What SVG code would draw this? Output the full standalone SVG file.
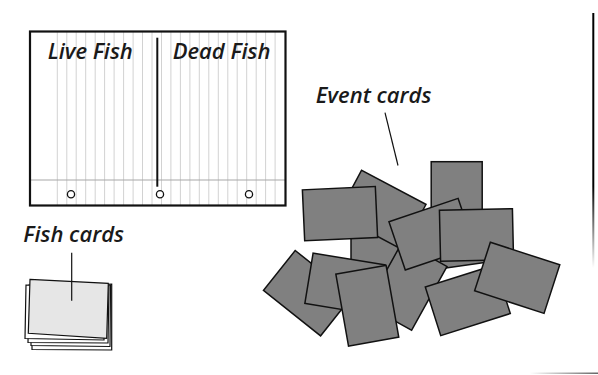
<svg xmlns="http://www.w3.org/2000/svg" xmlns:xlink="http://www.w3.org/1999/xlink" width="598" height="375" viewBox="0 0 598 375">
<style>
.lbl{font-family:"Open Sans","Liberation Sans",sans-serif;font-style:italic;font-weight:600;font-size:22px;fill:#1a1a1a}
.grid{stroke:#d2d2d2;stroke-width:1}
.ec{fill:#808080;stroke:#111;stroke-width:1.5;stroke-linejoin:miter}
.fc{fill:#fff;stroke:#111;stroke-width:1.2}
.ptr{stroke:#111;stroke-width:1.2;fill:none}
.hole{fill:#fff;stroke:#111;stroke-width:1.3}
</style>
<defs>
<rect id="card" x="-36.5" y="-25.5" width="73" height="51" class="ec"/>
<linearGradient id="gv" x1="0" y1="13" x2="0" y2="268" gradientUnits="userSpaceOnUse">
<stop offset="0" stop-color="#000"/>
<stop offset="0.68" stop-color="#000"/>
<stop offset="1" stop-color="#fff"/>
</linearGradient>
<linearGradient id="gh" x1="530" y1="0" x2="598" y2="0" gradientUnits="userSpaceOnUse">
<stop offset="0" stop-color="#fff"/>
<stop offset="1" stop-color="#666"/>
</linearGradient>
</defs>

<g id="board">
<rect x="30" y="31.5" width="255.5" height="174" fill="#fff"/>
<g class="grid">
<line x1="57.3" y1="31.5" x2="57.3" y2="205.5"/>
<line x1="66.8" y1="31.5" x2="66.8" y2="205.5"/>
<line x1="76.2" y1="31.5" x2="76.2" y2="205.5"/>
<line x1="85.7" y1="31.5" x2="85.7" y2="205.5"/>
<line x1="95.2" y1="31.5" x2="95.2" y2="205.5"/>
<line x1="104.6" y1="31.5" x2="104.6" y2="205.5"/>
<line x1="114.1" y1="31.5" x2="114.1" y2="205.5"/>
<line x1="123.6" y1="31.5" x2="123.6" y2="205.5"/>
<line x1="133.1" y1="31.5" x2="133.1" y2="205.5"/>
<line x1="142.5" y1="31.5" x2="142.5" y2="205.5"/>
<line x1="152.0" y1="31.5" x2="152.0" y2="205.5"/>
<line x1="161.5" y1="31.5" x2="161.5" y2="205.5"/>
<line x1="170.9" y1="31.5" x2="170.9" y2="205.5"/>
<line x1="180.4" y1="31.5" x2="180.4" y2="205.5"/>
<line x1="189.9" y1="31.5" x2="189.9" y2="205.5"/>
<line x1="199.3" y1="31.5" x2="199.3" y2="205.5"/>
<line x1="208.8" y1="31.5" x2="208.8" y2="205.5"/>
<line x1="218.3" y1="31.5" x2="218.3" y2="205.5"/>
<line x1="227.8" y1="31.5" x2="227.8" y2="205.5"/>
<line x1="237.2" y1="31.5" x2="237.2" y2="205.5"/>
<line x1="246.7" y1="31.5" x2="246.7" y2="205.5"/>
<line x1="256.2" y1="31.5" x2="256.2" y2="205.5"/>
<line x1="265.6" y1="31.5" x2="265.6" y2="205.5"/>
<line x1="275.1" y1="31.5" x2="275.1" y2="205.5"/>
</g>
<line x1="30" y1="180" x2="285.5" y2="180" stroke="#a8a8a8" stroke-width="1.2"/>
<rect x="30" y="31.5" width="255.5" height="174" fill="none" stroke="#111" stroke-width="2.2"/>
<line x1="157.3" y1="37.7" x2="157.3" y2="186.7" stroke="#111" stroke-width="2"/>
<circle cx="71" cy="194.2" r="3.6" class="hole"/>
<circle cx="160" cy="194.2" r="3.6" class="hole"/>
<circle cx="249" cy="194.2" r="3.6" class="hole"/>
<text class="lbl" x="47.7" y="59">Live Fish</text>
<text class="lbl" x="172.7" y="59">Dead Fish</text>
</g>

<g id="fish-cards">
<polygon class="fc" points="32,287 111.7,284 111.7,350 32,349.5"/>
<polygon class="fc" points="31,286 110.5,285 110,346.5 31,345.5"/>
<polygon class="fc" points="29,285 109,286 108,343 28,342.5"/>
<polygon class="fc" points="26,285 106,287 104,340 25,338.5"/>
<polygon points="30,279.3 108.3,283.3 106.7,338.3 28.3,333.3" fill="#e6e6e6" stroke="#111" stroke-width="1.2"/>
<text class="lbl" x="23.3" y="241.7">Fish cards</text>
</g>

<g id="event-cards">
<use xlink:href="#card" transform="translate(387.5,247.5)"/>
<use xlink:href="#card" transform="translate(381.8,209.8) rotate(28)"/>
<use xlink:href="#card" transform="translate(340,213.7) rotate(-2.6)"/>
<use xlink:href="#card" transform="translate(456.7,198.2) rotate(90)"/>
<use xlink:href="#card" transform="translate(449.3,241.8) rotate(-8)"/>
<use xlink:href="#card" transform="translate(407,286) rotate(119)"/>
<use xlink:href="#card" transform="translate(431.7,234.2) rotate(-18.7)"/>
<use xlink:href="#card" transform="translate(476.5,235) rotate(-1.3)"/>
<use xlink:href="#card" transform="translate(467.8,300.3) rotate(-17.6)"/>
<use xlink:href="#card" transform="translate(517.2,277.8) rotate(18)"/>
<use xlink:href="#card" transform="translate(307.9,293.2) rotate(38.5)"/>
<use xlink:href="#card" transform="translate(345,284.2) rotate(9.3)"/>
<use xlink:href="#card" transform="translate(367.3,305.7) rotate(80)"/>
<text class="lbl" x="315.7" y="103.3">Event cards</text>
</g>

<g id="connectors">
<line class="ptr" x1="71.7" y1="252.7" x2="71.7" y2="300.7"/>
<line class="ptr" x1="385" y1="112.7" x2="398" y2="165.5"/>
</g>

<g id="frame">
<line x1="593.3" y1="13" x2="593.3" y2="268" stroke="url(#gv)" stroke-width="2"/>
<rect x="530" y="372.5" width="68" height="1.5" fill="url(#gh)"/>
</g>
</svg>
